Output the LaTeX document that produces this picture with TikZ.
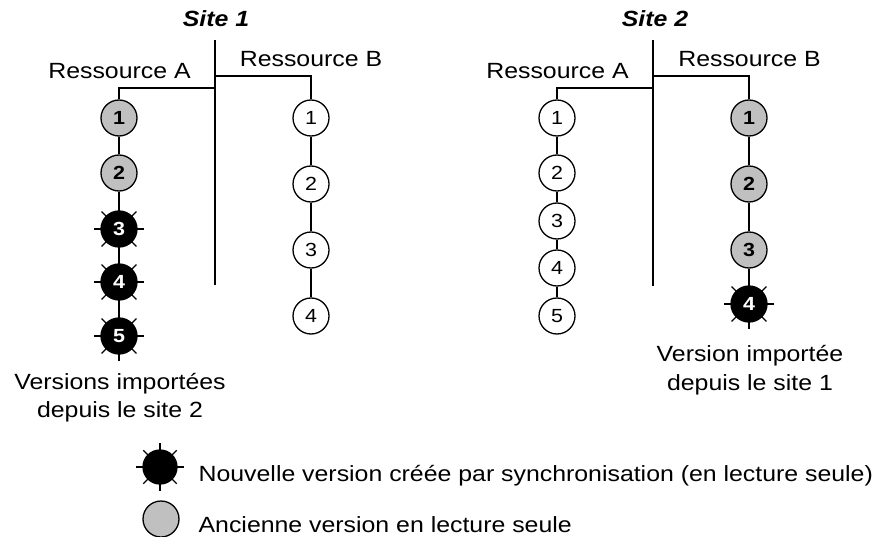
\documentclass[tikz,border=0pt]{standalone}
\usepackage{fontspec}
\setmainfont{Liberation Sans}[FakeStretch=1.13]
\begin{document}
\begin{tikzpicture}[x=1pt,y=-1pt,line width=1.3pt,
  txt/.style={inner sep=0pt,anchor=base,font=\fontsize{22}{28}\selectfont},
  ltxt/.style={txt,anchor=base west},
  ttl/.style={txt,font=\fontsize{22}{28}\selectfont\bfseries\itshape},
  ver/.style={circle,draw,minimum size=36pt,inner sep=0pt,font=\fontsize{19}{19}\selectfont},
  oldver/.style={ver,fill=lightgray,font=\fontsize{19}{19}\selectfont\bfseries},
  newver/.style={ver,fill=black,text=white,font=\fontsize{19}{19}\selectfont\bfseries},
  spike/.style={line width=1.2pt},
]
\definecolor{lightgray}{HTML}{C0C0C0}
\useasboundingbox (0,0) rectangle (890,537);

% ---------- Site 1 ----------
\node[ttl] (t1) at (216,27) {Site 1};
\coordinate (s1top) at (215,40);
\coordinate (s1bot) at (215,285);
\draw (s1top) -- (s1bot);
\node[txt] (s1ra) at (119.5,79) {Ressource A};
\node[txt] (s1rb) at (311,67) {Ressource B};
\coordinate (s1ja) at (215,88);
\coordinate (s1ka) at (119,88);
\coordinate (s1jb) at (215,76);
\coordinate (s1kb) at (311,76);

\node[oldver] (a1) at (119,118) {1};
\node[oldver] (a2) at (119,173) {2};
\node[newver] (a3) at (119,229) {3};
\node[newver] (a4) at (119,282) {4};
\node[newver] (a5) at (119,336) {5};
\draw (s1ja) -- (s1ka) -- (a1);
\draw (a1) -- (a2) -- (a3) -- (a4) -- (a5);

\node[ver] (b1) at (311,118) {1};
\node[ver] (b2) at (311,184) {2};
\node[ver] (b3) at (311,250) {3};
\node[ver] (b4) at (311,316) {4};
\draw (s1jb) -- (s1kb) -- (b1);
\draw (b1) -- (b2) -- (b3) -- (b4);

\node[txt] (l1a) at (120,389) {Versions importées};
\node[txt] (l1b) at (120,417) {depuis le site 2};

% ---------- Site 2 ----------
\node[ttl] (t2) at (655,27) {Site 2};
\coordinate (s2top) at (653,40);
\coordinate (s2bot) at (653,286);
\draw (s2top) -- (s2bot);
\node[txt] (s2ra) at (557.5,79) {Ressource A};
\node[txt] (s2rb) at (749.5,67) {Ressource B};
\coordinate (s2ja) at (653,88);
\coordinate (s2ka) at (557,88);
\coordinate (s2jb) at (653,76);
\coordinate (s2kb) at (749,76);

\node[ver] (c1) at (557,118) {1};
\node[ver] (c2) at (557,173) {2};
\node[ver] (c3) at (557,221) {3};
\node[ver] (c4) at (557,268) {4};
\node[ver] (c5) at (557,316) {5};
\draw (s2ja) -- (s2ka) -- (c1);
\draw (c1) -- (c2) -- (c3) -- (c4) -- (c5);

\node[oldver] (d1) at (749,118) {1};
\node[oldver] (d2) at (749,184) {2};
\node[oldver] (d3) at (749,250) {3};
\node[newver] (d4) at (749,304) {4};
\draw (s2jb) -- (s2kb) -- (d1);
\draw (d1) -- (d2) -- (d3) -- (d4);

\node[txt] (l2a) at (750,361) {Version importée};
\node[txt] (l2b) at (750,390) {depuis le site 1};

% ---------- Legend ----------
\node[newver,minimum size=34pt] (kn) at (160,467) {};
\node[ltxt] (kntxt) at (198,481) {Nouvelle version créée par synchronisation (en lecture seule)};
\node[oldver] (ko) at (161,519) {};
\node[ltxt] (kotxt) at (198,532) {Ancienne version en lecture seule};

% spikes round the versions created by synchronisation
\foreach \n in {a3,a4,a5,d4,kn}
  \foreach \ang in {0,45,...,315}
    \draw[spike] ([shift={(\ang:-1pt)}]\n.\ang) -- ([shift={(\ang:6pt)}]\n.\ang);
\end{tikzpicture}
\end{document}
